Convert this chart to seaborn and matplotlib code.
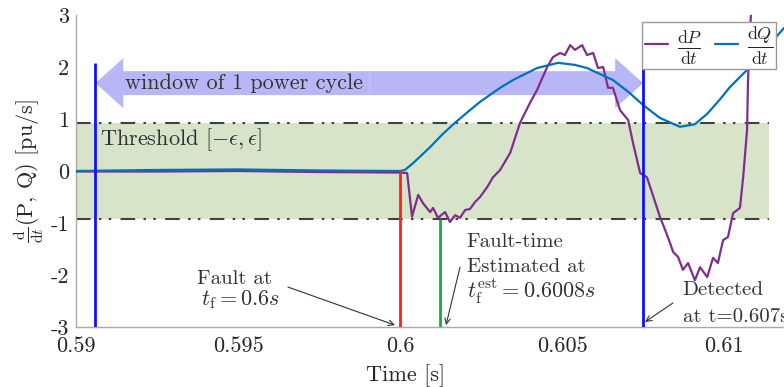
import numpy as np
import matplotlib
matplotlib.use('Agg')
import matplotlib.pyplot as plt
import seaborn as sns

# dP/dt and dQ/dt (time in s, value in pu/s)
t_dp = [0.59, 0.5925, 0.595, 0.5975, 0.6, 0.60022, 0.60037, 0.60056, 0.60071, 0.60093,
        0.60102, 0.60117, 0.60139, 0.60154, 0.60170, 0.60185, 0.60201, 0.60216, 0.60231,
        0.60247, 0.60269, 0.60287, 0.60309, 0.60340, 0.60370, 0.60401, 0.60423, 0.60454,
        0.60472, 0.60494, 0.60509, 0.60525, 0.60540, 0.60562, 0.60577, 0.60596, 0.60611,
        0.60627, 0.60642, 0.60657, 0.60679, 0.60704, 0.60719, 0.60741, 0.60762, 0.60778,
        0.60802, 0.60818, 0.60833, 0.60843, 0.60858, 0.60873, 0.60889, 0.60910, 0.60926,
        0.60948, 0.60966, 0.60981, 0.60997, 0.61012, 0.61028, 0.61049, 0.61059, 0.61071,
        0.61074, 0.61080, 0.61086]
dp = [-0.01, -0.01, 0.0, -0.02, -0.03, -0.04, -0.88, -0.46, -0.62, -0.79,
      -0.71, -0.90, -0.79, -0.98, -0.85, -0.90, -0.75, -0.73, -0.60,
      -0.50, -0.31, -0.12, 0.02, 0.35, 0.92, 1.31, 1.56, 2.00,
      2.19, 2.27, 2.23, 2.42, 2.33, 2.42, 2.23, 2.27, 1.98,
      2.00, 1.60, 1.60, 1.17, 0.98, 0.54, -0.04, -0.12, -0.42,
      -0.88, -1.13, -1.38, -1.56, -1.65, -1.90, -1.77, -2.10, -1.85,
      -2.04, -1.67, -1.77, -1.33, -1.27, -0.81, -0.71, -0.12, 0.79,
      1.75, 2.71, 3.3]

t_dq = [0.59, 0.5925, 0.595, 0.5975, 0.6, 0.60015, 0.6004, 0.60093, 0.6013, 0.60170,
        0.60210, 0.60247, 0.60309, 0.60349, 0.60423, 0.60488, 0.60540, 0.60577, 0.60657,
        0.60705, 0.60750, 0.60802, 0.60864, 0.60910, 0.60948, 0.60985, 0.61019, 0.61080,
        0.61185]
dq = [0.0, 0.02, 0.03, 0.01, 0.0, 0.02, 0.15, 0.46, 0.70, 0.93,
      1.14, 1.33, 1.60, 1.75, 1.98, 2.08, 2.04, 1.98, 1.75,
      1.52, 1.27, 1.02, 0.85, 0.90, 1.10, 1.36, 1.62, 2.00,
      2.75]

eps = 0.93
band_end = 0.6114
window = [0.5906, 0.6075]          # one power cycle
window_y = 1.69
t_fault = 0.6
t_est = 0.60123
line_top = 2.08

sns.set_style('white')
plt.rcParams['font.family'] = 'serif'
plt.rcParams['font.serif'] = ['cmr10', 'DejaVu Serif']
plt.rcParams['mathtext.fontset'] = 'cm'
plt.rcParams['axes.unicode_minus'] = False
plt.rcParams['axes.formatter.use_mathtext'] = True

fig = plt.figure(figsize=(7.84, 3.87), dpi=100)
ax = fig.add_axes([76 / 784, 1 - 327 / 387, 708 / 784, 312 / 387])

# threshold band
ax.fill_between([0.59, band_end], -eps, eps, color='#d7e4c9', lw=0, zorder=0)
ax.hlines([eps, -eps], 0.59, band_end, colors='#404040', lw=1.5, zorder=1,
          linestyles=[(0, (7, 4, 1.2, 3.5, 1.2, 4.5))])

# window arrow (two halves meeting in the middle)
mid = (window[0] + window[1]) / 2
for end in window:
    ax.arrow(mid, window_y, end - mid, 0, width=0.46, head_width=0.96,
             head_length=0.00086, length_includes_head=True,
             color='#b7b7f8', lw=0, zorder=1)

sns.lineplot(x=t_dp, y=dp, ax=ax, color='#7e2f8e', lw=1.6, label=r'$\frac{\mathrm{d}P}{\mathrm{d}t}$', zorder=3)
sns.lineplot(x=t_dq, y=dq, ax=ax, color='#0072bd', lw=1.6, label=r'$\frac{\mathrm{d}Q}{\mathrm{d}t}$', zorder=3)

ax.vlines(window, -3, line_top, colors='#1010ff', lw=2, zorder=4)
ax.vlines([t_fault], -3, 0, colors='#ff2020', lw=2, zorder=4)
ax.vlines([t_est], -3, -eps, colors='#10b040', lw=2, zorder=4)

ax.set_xlim(0.59, 0.61185)
ax.set_ylim(-3, 3)
ax.set_xticks([0.59, 0.595, 0.6, 0.605, 0.61])
ax.set_xticklabels(['0.59', '0.595', '0.6', '0.605', '0.61'])
ax.set_yticks([-3, -2, -1, 0, 1, 2, 3])
ax.set_yticklabels(['-3', '-2', '-1', '0', '1', '2', '3'])
ax.tick_params(direction='in', length=5, color='#999999', labelsize=16, pad=5)
ax.tick_params(axis='x', pad=7)
for s in ['top', 'right']:
    ax.spines[s].set_visible(False)
for s in ['left', 'bottom']:
    ax.spines[s].set_color('#aaaaaa')
    ax.spines[s].set_linewidth(1)

ax.set_xlabel('Time [s]', fontsize=16)
ax.xaxis.set_label_coords(0.465, -0.12)
ax.set_ylabel(r'$\frac{\mathrm{d}}{\mathrm{d}t}$(P, Q) [pu/s]', fontsize=16)
ax.yaxis.set_label_coords(-0.043, 0.5)

tc = '#333333'
ax.text(0.069, 0.782, 'window of 1 power cycle', transform=ax.transAxes,
        fontsize=16, color=tc, va='center', ha='left', zorder=5)
ax.text(0.034, 0.599, r'Threshold $[-\epsilon, \epsilon]$', transform=ax.transAxes,
        fontsize=16, color=tc, va='center', ha='left', zorder=5)

ax.text(0.224, 0.154, 'Fault at', transform=ax.transAxes, fontsize=15, color=tc, ha='center', va='center')
ax.text(0.232, 0.087, r'$t_\mathrm{f} = 0.6s$', transform=ax.transAxes, fontsize=16, color=tc, ha='center', va='center')
ax.text(0.552, 0.272, 'Fault-time', transform=ax.transAxes, fontsize=15, color=tc, ha='left', va='center')
ax.text(0.552, 0.192, 'Estimated at', transform=ax.transAxes, fontsize=15, color=tc, ha='left', va='center')
ax.text(0.552, 0.112, r'$t_\mathrm{f}^\mathrm{est} = 0.6008s$', transform=ax.transAxes, fontsize=16, color=tc, ha='left', va='center')
ax.text(0.857, 0.119, 'Detected', transform=ax.transAxes, fontsize=15, color=tc, ha='left', va='center')
ax.text(0.857, 0.032, 'at t=0.607s', transform=ax.transAxes, fontsize=15, color=tc, ha='left', va='center')

arrow_kw = dict(arrowstyle='->', color='#333333', lw=0.8, shrinkA=0, shrinkB=0)
ax.annotate('', xy=(0.4506, 0.006), xytext=(0.2994, 0.128), xycoords='axes fraction', arrowprops=arrow_kw)
ax.annotate('', xy=(0.5226, 0.006), xytext=(0.5424, 0.192), xycoords='axes fraction', arrowprops=arrow_kw)
ax.annotate('', xy=(0.8037, 0.016), xytext=(0.8432, 0.077), xycoords='axes fraction', arrowprops=arrow_kw)

leg = ax.legend(ncol=2, loc='upper right', bbox_to_anchor=(0.989, 0.978), fontsize=18.5,
                handlelength=0.9, columnspacing=0.5, handletextpad=0.35, borderpad=0.1,
                borderaxespad=0, fancybox=False, edgecolor='#999999', framealpha=1)
leg.get_frame().set_linewidth(1)

fig.savefig('out.png', dpi=100)
